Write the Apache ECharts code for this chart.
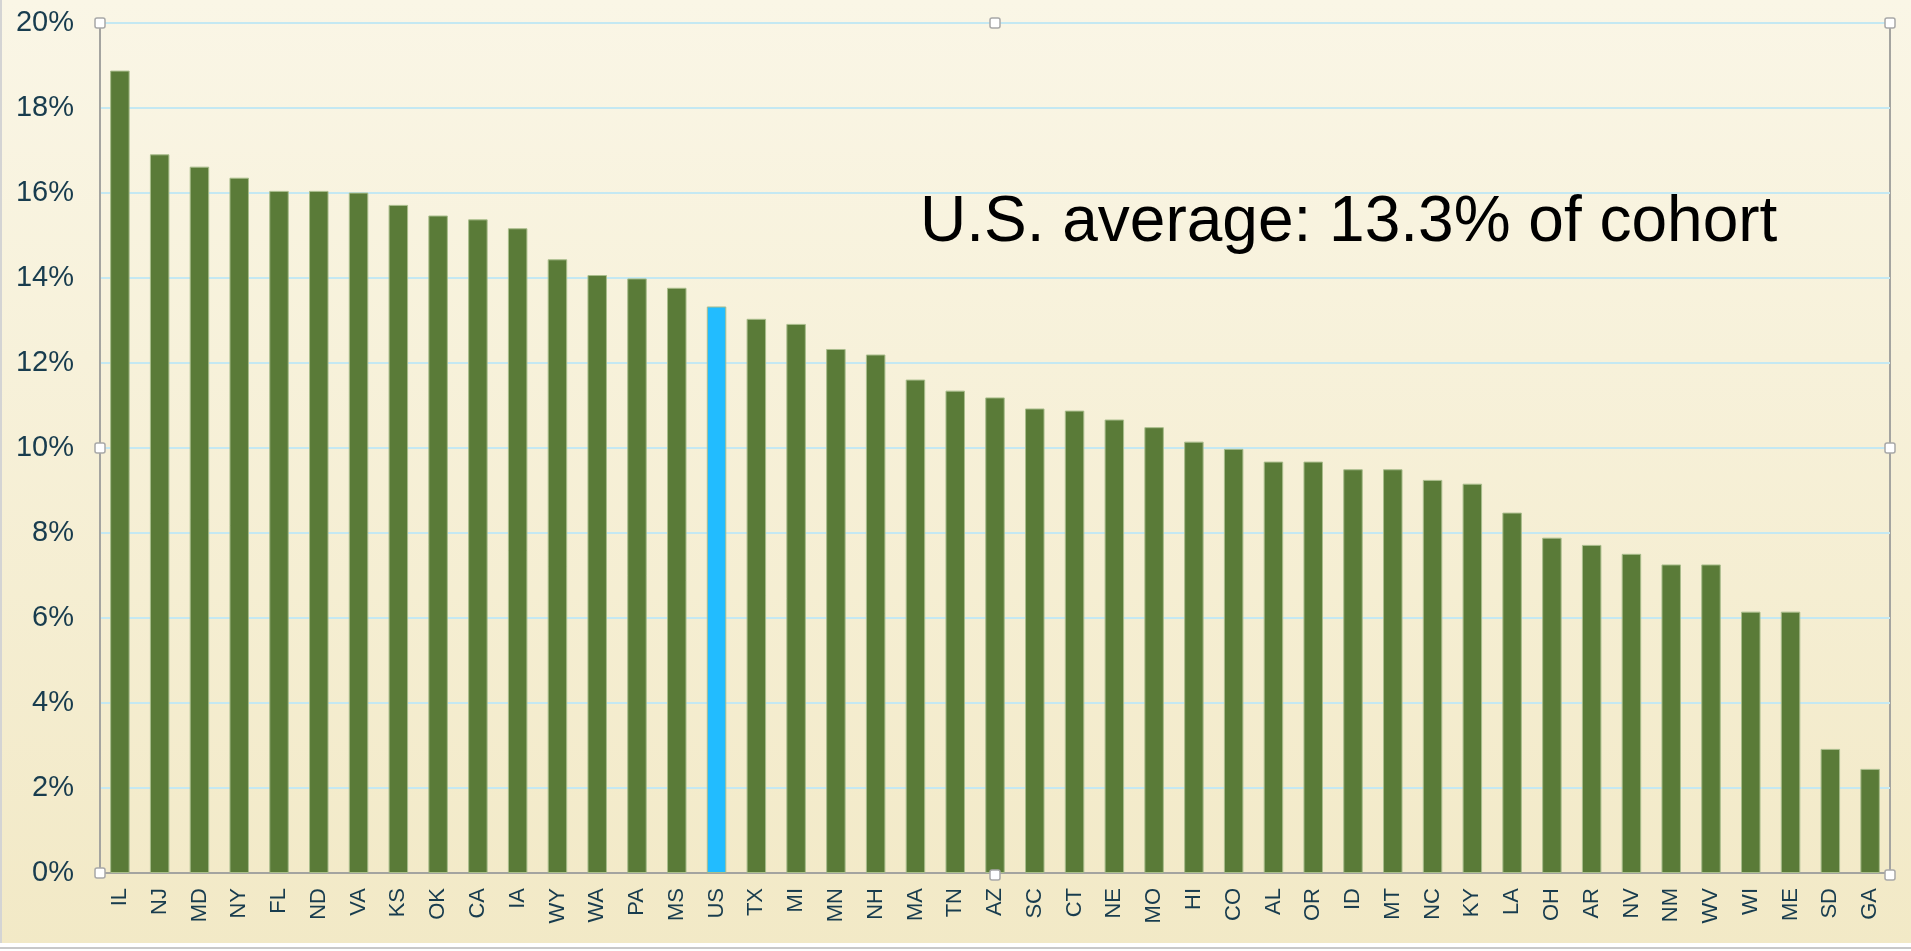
<!DOCTYPE html>
<html>
<head>
<meta charset="utf-8">
<title>Share of cohort by state</title>
<script src="https://cdn.jsdelivr.net/npm/echarts@6/dist/echarts.min.js"></script>
<style>
  html, body { margin: 0; padding: 0; background: #ffffff; }
  #chart { width: 1911px; height: 951px; }
</style>
</head>
<body>
<div id="chart"></div>
<script>
// 州代码（按数值从高到低）
const states = ['IL', 'NJ', 'MD', 'NY', 'FL', 'ND', 'VA', 'KS', 'OK', 'CA', 'IA', 'WY', 'WA', 'PA', 'MS',
  'US', 'TX', 'MI', 'MN', 'NH', 'MA', 'TN', 'AZ', 'SC', 'CT', 'NE', 'MO', 'HI', 'CO', 'AL',
  'OR', 'ID', 'MT', 'NC', 'KY', 'LA', 'OH', 'AR', 'NV', 'NM', 'WV', 'WI', 'ME', 'SD', 'GA']

// 占比（%）
const shares = [18.88, 16.91, 16.62, 16.36, 16.05, 16.05, 16.01, 15.72, 15.47, 15.38, 15.17, 14.44, 14.07, 13.99, 13.77,
  13.33, 13.04, 12.92, 12.33, 12.2, 11.61, 11.35, 11.19, 10.93, 10.88, 10.67, 10.49, 10.15, 9.98, 9.68,
  9.68, 9.5, 9.5, 9.25, 9.16, 8.48, 7.89, 7.72, 7.51, 7.26, 7.26, 6.15, 6.15, 2.92, 2.45]

const yTicks = { min: 0, max: 20, interval: 2 }
const highlight = 'US'
const note = 'U.S. average: 13.3% of cohort'

// 绘图区范围
const plot = { left: 100, right: 1890, top: 23, bottom: 873 }
const W = 1911
const H = 951

const chart = echarts.init(document.getElementById('chart'), null, { renderer: 'canvas' })

// 选中框的小方块
const handle = (x, y) => ({
  type: 'rect',
  x: x - 5,
  y: y - 5,
  shape: { width: 10, height: 10, r: 2 },
  style: { fill: '#ffffff', stroke: '#a8a8a8', lineWidth: 1.5 },
  z: 100
})
const midX = (plot.left + plot.right) / 2
const midY = (plot.top + plot.bottom) / 2

const option = {
  animation: false,
  backgroundColor: {
    type: 'linear', x: 0, y: 0, x2: 0, y2: 1,
    colorStops: [
      { offset: 0, color: '#faf6e6' },
      { offset: 1, color: '#f2e9c6' }
    ]
  },
  grid: {
    left: plot.left,
    right: W - plot.right,
    top: plot.top,
    bottom: H - plot.bottom,
    show: true,
    borderColor: '#a4a4a0',
    borderWidth: 2,
    backgroundColor: 'transparent'
  },
  xAxis: {
    type: 'category',
    data: states,
    axisLine: { lineStyle: { color: '#a4a4a0', width: 2 } },
    axisTick: { show: false },
    axisLabel: {
      rotate: 90,
      interval: 0,
      margin: 15,
      color: '#183c4e',
      fontFamily: 'Liberation Sans, Arial, sans-serif',
      fontSize: 22
    }
  },
  yAxis: {
    type: 'value',
    min: yTicks.min,
    max: yTicks.max,
    interval: yTicks.interval,
    axisLine: { show: true, lineStyle: { color: '#a4a4a0', width: 2 } },
    axisTick: { show: false },
    axisLabel: {
      margin: 26,
      color: '#183c4e',
      fontFamily: 'Liberation Sans, Arial, sans-serif',
      fontSize: 29,
      formatter: '{value}%'
    },
    splitLine: { lineStyle: { color: '#c4e8f2', width: 2 } }
  },
  series: [
    {
      type: 'bar',
      data: shares,
      barCategoryGap: '51%',
      itemStyle: {
        color: (p) => p.name === highlight ? '#22bcff' : '#5a7b38',
        borderColor: '#a9bd8c',
        borderWidth: 1
      }
    }
  ],
  graphic: [
    {
      type: 'text',
      x: 920,
      y: 223,
      style: {
        text: note,
        fill: '#000000',
        font: '64px "Liberation Sans", Arial, sans-serif',
        align: 'left',
        verticalAlign: 'middle'
      },
      z: 50
    },
    // 图表外框底部
    { type: 'rect', shape: { x: 0, y: 943, width: W, height: 8 }, style: { fill: '#ffffff' }, z: 40 },
    { type: 'line', shape: { x1: 0, y1: 948, x2: W, y2: 948 }, style: { stroke: '#c8c8c8', lineWidth: 2 }, z: 41 },
    { type: 'line', shape: { x1: 1, y1: 0, x2: 1, y2: 943 }, style: { stroke: '#d4d4d4', lineWidth: 2 }, z: 41 },
    handle(plot.left, plot.top),
    handle(midX, plot.top),
    handle(plot.right, plot.top),
    handle(plot.left, midY),
    handle(plot.right, midY),
    handle(plot.left, plot.bottom),
    handle(midX, plot.bottom + 2),
    handle(plot.right, plot.bottom + 2)
  ]
}

chart.setOption(option)

window.addEventListener('resize', () => {
  chart.resize()
})
</script>
</body>
</html>
